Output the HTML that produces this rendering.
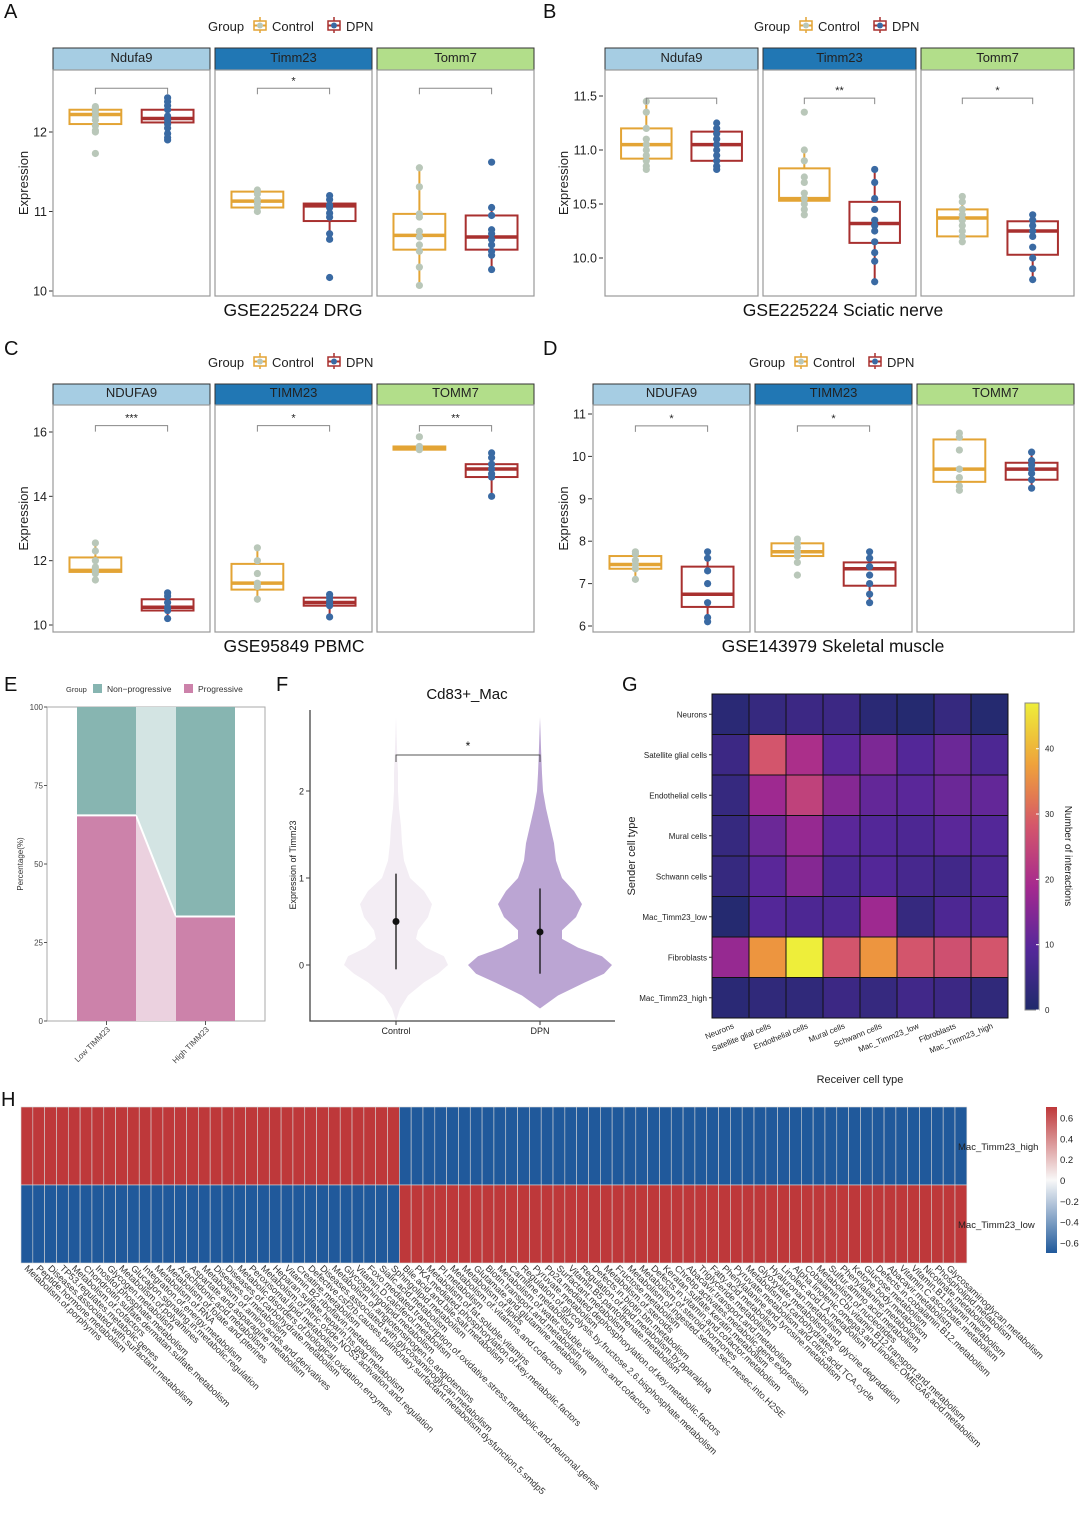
<!DOCTYPE html>
<html><head><meta charset="utf-8"><style>
html,body{margin:0;padding:0;background:#fff;}
svg{display:block;font-family:"Liberation Sans",Arial,sans-serif;}
</style></head><body>
<svg id="fig" xmlns="http://www.w3.org/2000/svg" width="1080" height="1516" viewBox="0 0 1080 1516">
<rect width="1080" height="1516" fill="#fff"/>
<g font-size="20" fill="#111">
<text x="4" y="18">A</text>
<text x="543" y="18">B</text>
<text x="4" y="355">C</text>
<text x="543" y="355">D</text>
<text x="4" y="691">E</text>
<text x="276" y="691">F</text>
<text x="622" y="691">G</text>
<text x="1" y="1106">H</text>
</g>
</svg>
<script>
// ---------- DATA: box panels ----------
const A_genes=['Ndufa9','Timm23','Tomm7'];
const A_ctrlStats=[[12.1,12.22,12.28],[11.05,11.13,11.25],[10.52,10.7,10.97]];
const A_dpnStats=[[12.12,12.17,12.28],[10.88,11.07,11.1],[10.52,10.68,10.95]];
const A_ctrlPts=[[12.32,12.3,12.25,12.2,12.15,12.08,12.02,12.0,11.73],[11.27,11.22,11.15,11.1,11.05,11.0],[11.55,11.31,10.97,10.93,10.75,10.68,10.58,10.5,10.3,10.07]];
const A_dpnPts=[[12.43,12.38,12.33,12.28,12.2,12.15,12.1,12.05,11.98,11.93,11.9],[11.2,11.15,11.08,11.05,10.98,10.93,10.72,10.65,10.17],[11.62,11.05,10.95,10.77,10.72,10.65,10.58,10.5,10.45,10.27]];
const A_sig=['','*',''];
const A_ticks=[10,11,12];

const B_genes=['Ndufa9','Timm23','Tomm7'];
const B_ctrlStats=[[10.92,11.05,11.2],[10.53,10.55,10.83],[10.2,10.37,10.45]];
const B_dpnStats=[[10.9,11.05,11.17],[10.14,10.32,10.52],[10.03,10.25,10.34]];
const B_ctrlPts=[[11.45,11.35,11.2,11.1,11.05,11.0,10.95,10.9,10.85,10.82],[11.35,11.0,10.9,10.75,10.7,10.6,10.55,10.5,10.45,10.4],[10.57,10.52,10.45,10.4,10.35,10.3,10.25,10.2,10.15]];
const B_dpnPts=[[11.25,11.2,11.15,11.1,11.05,11.0,10.95,10.9,10.85,10.82],[10.82,10.7,10.55,10.45,10.35,10.3,10.25,10.15,10.05,9.97,9.78],[10.4,10.35,10.3,10.25,10.2,10.1,10.0,9.9,9.8]];
const B_sig=['','**','*'];
const B_ticks=[10.0,10.5,11.0,11.5];

const C_genes=['NDUFA9','TIMM23','TOMM7'];
const C_ctrlStats=[[11.65,11.7,12.1],[11.1,11.3,11.9],[15.45,15.5,15.55]];
const C_dpnStats=[[10.45,10.55,10.8],[10.6,10.7,10.85],[14.6,14.85,15.0]];
const C_ctrlPts=[[12.55,12.3,12.0,11.8,11.7,11.6,11.4],[12.4,12.0,11.6,11.3,11.2,10.8],[15.85,15.55,15.5,15.45]];
const C_dpnPts=[[11.0,10.9,10.7,10.55,10.45,10.2],[10.95,10.85,10.75,10.65,10.6,10.25],[15.35,15.2,15.0,14.85,14.7,14.6,14.0]];
const C_sig=['***','*','**'];
const C_ticks=[10,12,14,16];

const D_genes=['NDUFA9','TIMM23','TOMM7'];
const D_ctrlStats=[[7.35,7.45,7.65],[7.65,7.75,7.95],[9.4,9.7,10.4]];
const D_dpnStats=[[6.45,6.75,7.4],[6.95,7.35,7.5],[9.45,9.7,9.85]];
const D_ctrlPts=[[7.75,7.7,7.55,7.45,7.35,7.1],[8.05,7.95,7.85,7.75,7.65,7.5,7.2],[10.55,10.45,10.15,9.7,9.5,9.3,9.2]];
const D_dpnPts=[[7.75,7.6,7.3,7.0,6.55,6.2,6.1],[7.75,7.6,7.4,7.2,7.0,6.75,6.55],[10.1,9.9,9.8,9.7,9.6,9.45,9.25]];
const D_sig=['*','*',null];
const D_ticks=[6,7,8,9,10,11];

// ---------- DATA: E ----------
const E_groups=['Low TIMM23','High TIMM23'];
const E_progressive=[65.5,33.3];
const E_ticks=[0,25,50,75,100];

// ---------- DATA: F ----------
const F_groups=['Control','DPN'];
const F_ys=[-0.65,-0.5,-0.35,-0.2,-0.1,0,0.1,0.2,0.3,0.4,0.55,0.7,0.85,1.0,1.2,1.4,1.6,1.8,2.0,2.2,2.5,2.85];
const F_ctrlDens=[0,4,12,28,42,52,48,30,20,22,32,36,28,14,8,6,5,3,2,2,1,0];
const F_dpnDens=[0,0,18,45,64,72,62,38,22,22,36,42,34,22,16,14,10,6,3,2,1,0];
const F_mean=[0.5,0.38];
const F_lo=[-0.05,-0.1];
const F_hi=[1.05,0.88];
const F_ticks=[0,1,2];

// ---------- DATA: G ----------
const G_cells=['Neurons','Satellite glial cells','Endothelial cells','Mural cells','Schwann cells','Mac_Timm23_low','Fibroblasts','Mac_Timm23_high'];
const G_neurons=[2,4,5,5,2,1,4,1];
const G_satellite=[5,28,20,10,14,9,12,8];
const G_endothelial=[4,18,24,15,11,10,12,11];
const G_mural=[4,12,17,10,9,8,10,9];
const G_schwann=[4,10,15,8,9,7,6,8];
const G_macLow=[1,9,8,8,18,4,8,8];
const G_fibro=[17,36,47,28,36,28,27,28];
const G_macHigh=[2,3,3,5,4,6,5,3];
const G_ticks=[0,10,20,30,40];

// ---------- DATA: H ----------
const H_pathways=['Metabolism.of.porphyrins','Peptide.hormone.metabolism','Diseases.associated.with.surfactant.metabolism','TP53.regulates.metabolic.genes','Metabolism.of.cofactors','Chondroitin.sulfate.dermatan.sulfate.metabolism','Inositol.phosphate.metabolism','Glycogen.metabolism','Metabolism.of.polyamines','Glucagon.signaling.in.metabolic.regulation','Integration.of.energy.metabolism','Metabolism.of.RNA','Metabolism.of.folate.and.pterines','Arachidonic.acid.metabolism','Aspartate.and.asparagine.metabolism','Metabolism.of.amino.acids.and.derivatives','Diseases.of.metabolism','Diseases.of.carbohydrate.metabolism','Metabolic.disorders.of.biological.oxidation.enzymes','Peroxisomal.lipid.metabolism','Metabolism.of.nitric.oxide.NOS3.activation.and.regulation','Heparan.sulfate.heparin.hs.gag.metabolism','Vitamin.B2.riboflavin.metabolism','Creatine.metabolism','Defective.csf2rb.causes.pulmonary.surfactant.metabolism.dysfunction.5.smdp5','Diseases.associated.with.glycosaminoglycan.metabolism','Metabolism.of.angiotensinogen.to.angiotensins','Glycosphingolipid.metabolism','Vitamin.D.calciferol.metabolism','Foxo.mediated.transcription.of.oxidative.stress.metabolic.and.neuronal.genes','Sialic.acid.metabolism','Sphingolipid.metabolism','Bile.acid.and.bile.salt.metabolism','PKA.mediated.phosphorylation.of.key.metabolic.factors','Metabolism.of.fat.soluble.vitamins','PI.metabolism','Metabolism.of.vitamins.and.cofactors','Metabolism.of.lipids','Glutamate.and.glutamine.metabolism','Biotin.transport.and.metabolism','Metabolism.of.water.soluble.vitamins.and.cofactors','Carnitine.metabolism','Regulation.of.glycolysis.by.fructose.2.6.bisphosphate.metabolism','Pyruvate.metabolism','Pp2a.mediated.dephosphorylation.of.key.metabolic.factors','Surfactant.metabolism','Vitamin.B5.pantothenate.metabolism','Regulation.of.lipid.metabolism.by.pparalpha','Defects.in.biotin.btn.metabolism','Metabolism.of.steroids','Fructose.metabolism','Metabolism.of.ingested.semet.sec.mesec.into.H2SE','Metabolism.of.steroid.hormones','Defects.in.vitamin.and.cofactor.metabolism','Keratan.sulfate.keratin.metabolism','Chrebp.activates.metabolic.gene.expression','Abacavir.transport.and.metabolism','Triglyceride.metabolism','Fatty.acid.metabolism','Phenylalanine.and.tyrosine.metabolism','Pyruvate.metabolism.and.citric.acid.TCA.cycle','Metabolism.of.carbohydrates','Glyoxylate.metabolism.and.glycine.degradation','Hyaluronan.metabolism','Linoleic.acid.LA.metabolism','Alpha.linolenic.omega3.and.linoleic.OMEGA6.acid.metabolism','Cobalamin.Cbl.vitamin.B12.transport.and.metabolism','Metabolism.of.nucleotides','Sulfur.amino.acid.metabolism','Phenylalanine.metabolism','Ketone.body.metabolism','Glucose.metabolism','Defects.in.cobalamin.B12.metabolism','Abacavir.metabolism','Vitamin.C.ascorbate.metabolism','Vitamin.B1.thiamin.metabolism','Nicotinate.metabolism','Phospholipid.metabolism','Glycosaminoglycan.metabolism'];
const H_rows=['Mac_Timm23_high','Mac_Timm23_low'];
const H_high=[0.7,0.7,0.7,0.7,0.7,0.7,0.7,0.7,0.7,0.7,0.7,0.7,0.7,0.7,0.7,0.7,0.7,0.7,0.7,0.7,0.7,0.7,0.7,0.7,0.7,0.7,0.7,0.7,0.7,0.7,0.7,0.7,-0.7,-0.7,-0.7,-0.7,-0.7,-0.7,-0.7,-0.7,-0.7,-0.7,-0.7,-0.7,-0.7,-0.7,-0.7,-0.7,-0.7,-0.7,-0.7,-0.7,-0.7,-0.7,-0.7,-0.7,-0.7,-0.7,-0.7,-0.7,-0.7,-0.7,-0.7,-0.7,-0.7,-0.7,-0.7,-0.7,-0.7,-0.7,-0.7,-0.7,-0.7,-0.7,-0.7,-0.7,-0.7,-0.7,-0.7,-0.7];
const H_low=[-0.7,-0.7,-0.7,-0.7,-0.7,-0.7,-0.7,-0.7,-0.7,-0.7,-0.7,-0.7,-0.7,-0.7,-0.7,-0.7,-0.7,-0.7,-0.7,-0.7,-0.7,-0.7,-0.7,-0.7,-0.7,-0.7,-0.7,-0.7,-0.7,-0.7,-0.7,-0.7,0.7,0.7,0.7,0.7,0.7,0.7,0.7,0.7,0.7,0.7,0.7,0.7,0.7,0.7,0.7,0.7,0.7,0.7,0.7,0.7,0.7,0.7,0.7,0.7,0.7,0.7,0.7,0.7,0.7,0.7,0.7,0.7,0.7,0.7,0.7,0.7,0.7,0.7,0.7,0.7,0.7,0.7,0.7,0.7,0.7,0.7,0.7,0.7];
const H_ticks=[0.6,0.4,0.2,0,-0.2,-0.4,-0.6];

// ---------- helpers ----------
const NS='http://www.w3.org/2000/svg';
const svg=document.getElementById('fig');
function mk(tag,attrs,parent,txt){const e=document.createElementNS(NS,tag);for(const k in attrs)e.setAttribute(k,attrs[k]);if(txt!==undefined)e.textContent=txt;(parent||svg).appendChild(e);return e;}
function lin(d0,d1,r0,r1){return v=>r0+(v-d0)*(r1-r0)/(d1-d0);}
const CTRL='#e3a435',DPN='#a8302f',CTRLPT='#b9c7b9',DPNPT='#3a6aa3';
const STRIPS=['#a6cde3','#2177b4','#b2de8a'];

function legend(x,y){
  const g=mk('g',{},svg);
  
  mk('text',{x:x,y:y,'font-size':13,fill:'#222'},g,'Group');
  const items=[['Control',CTRL,CTRLPT],['DPN',DPN,DPNPT]];
  let cx=x+46;
  items.forEach(it=>{
    const e=mk('g',{},g);
    
    
    mk('line',{x1:cx+6,y1:y-14,x2:cx+6,y2:y+2,stroke:it[1],'stroke-width':1.5},e);
    mk('rect',{x:cx,y:y-10,width:12,height:9,fill:'#fff',stroke:it[1],'stroke-width':1.5},e);
    mk('line',{x1:cx,y1:y-5.5,x2:cx+12,y2:y-5.5,stroke:it[1],'stroke-width':2},e);
    mk('circle',{cx:cx+6,cy:y-5.5,r:3,fill:it[2]},e);
    mk('text',{x:cx+18,y:y,'font-size':13,fill:'#222'},e,it[0]);
    cx+=it[0]==='Control'?74:0;
  });
}

function boxPanel(c){
  const ys=lin(c.v0,c.v1,c.p0,c.p1);
  legend(c.legX,c.legY);
  // y axis
  const ax=mk('g',{},svg);
  c.ticks.forEach(t=>{const y=ys(t);
    mk('line',{x1:c.axisX-4,y1:y,x2:c.axisX,y2:y,stroke:'#333'},ax);
    mk('text',{x:c.axisX-6,y:y+4.5,'font-size':12.5,'text-anchor':'end',fill:'#222'},ax,c.tickFmt?t.toFixed(1):String(t));});
  const yt=mk('text',{x:0,y:0,'font-size':13,'text-anchor':'middle',transform:`translate(${c.yTitleX},${(c.plotTop+c.plotBottom)/2}) rotate(-90)`,fill:'#222'},svg,'Expression');
  
  c.facets.forEach((f,i)=>{
    const g=mk('g',{},svg);
    const w=f[1]-f[0];
    mk('rect',{x:f[0],y:c.stripTop,width:w,height:c.plotTop-c.stripTop,fill:STRIPS[i],stroke:'#333','stroke-width':1},g);
    mk('text',{x:f[0]+w/2,y:c.plotTop-8,'font-size':13,'text-anchor':'middle',fill:'#222'},g,c.genes[i]);
    mk('rect',{x:f[0],y:c.plotTop,width:w,height:c.plotBottom-c.plotTop,fill:'none',stroke:'#999','stroke-width':1.2},g);
    const sets=[[c.cs[i],c.cp[i],CTRL,CTRLPT,0.27,'control'],[c.ds[i],c.dp[i],DPN,DPNPT,0.73,'dpn']];
    sets.forEach(s=>{
      const st=s[0],pts=s[1],cx=f[0]+w*s[4],hw=w*0.165;
      const iqr=st[2]-st[0];
      const inl=pts.filter(p=>p>=st[0]-1.5*iqr&&p<=st[2]+1.5*iqr);
      const wl=Math.min(...inl,st[0]),wh=Math.max(...inl,st[2]);
      const b=mk('g',{},g);
      mk('line',{x1:cx,y1:ys(wh),x2:cx,y2:ys(st[2]),stroke:s[2],'stroke-width':2},b);
      mk('line',{x1:cx,y1:ys(st[0]),x2:cx,y2:ys(wl),stroke:s[2],'stroke-width':2},b);
      mk('rect',{x:cx-hw,y:ys(st[2]),width:2*hw,height:Math.max(1,ys(st[0])-ys(st[2])),fill:'#fff',stroke:s[2],'stroke-width':2},b);
      mk('line',{x1:cx-hw,y1:ys(st[1]),x2:cx+hw,y2:ys(st[1]),stroke:s[2],'stroke-width':3.5},b);
      pts.forEach(p=>{const pt=mk('circle',{cx:cx,cy:ys(p),r:3.6,fill:s[3]},b);
        });
    });
    if(c.sig[i]!==null){
      const by=ys(c.bracket),x1=f[0]+w*0.27,x2=f[0]+w*0.73;
      const br=mk('path',{d:`M${x1},${by+6}V${by}H${x2}V${by+6}`,fill:'none',stroke:'#888','stroke-width':1},g);
      
      if(c.sig[i])mk('text',{x:(x1+x2)/2,y:by-4,'font-size':11,'text-anchor':'middle',fill:'#222'},g,c.sig[i]);
    }
  });
  const t=mk('text',{x:c.titleX,y:c.titleY,'font-size':17.5,'text-anchor':'middle',fill:'#111'},svg,c.title);
  
}

boxPanel({id:'panel-a',genes:A_genes,cs:A_ctrlStats,ds:A_dpnStats,cp:A_ctrlPts,dp:A_dpnPts,sig:A_sig,ticks:A_ticks,
  v0:10,v1:12,p0:291,p1:132,axisX:53,facets:[[53,210],[215,372],[377,534]],stripTop:48,plotTop:70,plotBottom:296,
  bracket:12.55,legX:208,legY:31,yTitleX:28,title:'GSE225224 DRG',titleX:293,titleY:316});
boxPanel({id:'panel-b',genes:B_genes,cs:B_ctrlStats,ds:B_dpnStats,cp:B_ctrlPts,dp:B_dpnPts,sig:B_sig,ticks:B_ticks,tickFmt:1,
  v0:10,v1:11.5,p0:258,p1:96,axisX:603,facets:[[605,758],[763,916],[921,1074]],stripTop:48,plotTop:70,plotBottom:296,
  bracket:11.48,legX:754,legY:31,yTitleX:568,title:'GSE225224 Sciatic nerve',titleX:843,titleY:316});
boxPanel({id:'panel-c',genes:C_genes,cs:C_ctrlStats,ds:C_dpnStats,cp:C_ctrlPts,dp:C_dpnPts,sig:C_sig,ticks:C_ticks,
  v0:10,v1:16,p0:625,p1:432,axisX:53,facets:[[53,210],[215,372],[377,534]],stripTop:384,plotTop:405,plotBottom:632,
  bracket:16.2,legX:208,legY:367,yTitleX:28,title:'GSE95849 PBMC',titleX:294,titleY:652});
boxPanel({id:'panel-d',genes:D_genes,cs:D_ctrlStats,ds:D_dpnStats,cp:D_ctrlPts,dp:D_dpnPts,sig:D_sig,ticks:D_ticks,
  v0:6,v1:11,p0:626,p1:414,axisX:592,facets:[[593,750],[755,912],[917,1074]],stripTop:384,plotTop:405,plotBottom:632,
  bracket:10.72,legX:749,legY:367,yTitleX:568,title:'GSE143979 Skeletal muscle',titleX:833,titleY:652});

// ---------- E ----------
(function(){
  const ys=lin(0,100,1021,707);
  const bars=[[77,136],[176,235]];
  const g=mk('g',{},svg);
  mk('rect',{x:47,y:707,width:218,height:314,fill:'#fff',stroke:'#aaa'},g);
  const pL=ys(E_progressive[0]),pH=ys(E_progressive[1]);
  const fl=mk('polygon',{points:`${bars[0][1]},${ys(100)} ${bars[1][0]},${ys(100)} ${bars[1][0]},${pH} ${bars[0][1]},${pL}`,fill:'#d3e4e3'},g);
  
  const fp=mk('polygon',{points:`${bars[0][1]},${pL} ${bars[1][0]},${pH} ${bars[1][0]},${ys(0)} ${bars[0][1]},${ys(0)}`,fill:'#ebd1df'},g);
  
  mk('line',{x1:bars[0][1],y1:pL,x2:bars[1][0],y2:pH,stroke:'#fff','stroke-width':2},g);
  E_progressive.forEach((p,i)=>{
    const b=bars[i];
    const r1=mk('rect',{x:b[0],y:ys(100),width:b[1]-b[0],height:ys(p)-ys(100),fill:'#87b5b1'},g);
    
    const r2=mk('rect',{x:b[0],y:ys(p),width:b[1]-b[0],height:ys(0)-ys(p),fill:'#cc82aa'},g);
    
    mk('line',{x1:b[0],y1:ys(p),x2:b[1],y2:ys(p),stroke:'#fff','stroke-width':2},g);
    const cx=(b[0]+b[1])/2;
    mk('line',{x1:cx,y1:1021,x2:cx,y2:1025,stroke:'#555'},g);
    mk('text',{x:0,y:0,'font-size':8,'text-anchor':'end',fill:'#444',transform:`translate(${cx+4},${1030}) rotate(-45)`},g,E_groups[i]);
  });
  E_ticks.forEach(t=>{mk('line',{x1:44,y1:ys(t),x2:47,y2:ys(t),stroke:'#555'},g);
    mk('text',{x:43,y:ys(t)+3,'font-size':8,'text-anchor':'end',fill:'#444'},g,String(t));});
  mk('text',{x:0,y:0,'font-size':8,'text-anchor':'middle',fill:'#333',transform:'translate(23,864) rotate(-90)'},g,'Percentage(%)');
  const lg=mk('g',{},svg);
  mk('text',{x:66,y:692,'font-size':7.5,fill:'#333'},lg,'Group');
  mk('rect',{x:93,y:684,width:9,height:9,fill:'#87b5b1'},lg);
  mk('text',{x:107,y:692,'font-size':8.5,fill:'#333'},lg,'Non−progressive');
  mk('rect',{x:184,y:684,width:9,height:9,fill:'#cc82aa'},lg);
  mk('text',{x:198,y:692,'font-size':8.5,fill:'#333'},lg,'Progressive');
})();

// ---------- F ----------
(function(){
  const ys=lin(0,1,965,878);
  const xs=[396,540];
  const g=mk('g',{},svg);
  const dens=[F_ctrlDens,F_dpnDens],cols=['#f3edf4','#bba5d3'];
  dens.forEach((d,i)=>{
    let pts=[];
    F_ys.forEach((y,k)=>pts.push([xs[i]+d[k],ys(y)]));
    for(let k=F_ys.length-1;k>=0;k--)pts.push([xs[i]-d[k],ys(F_ys[k])]);
    const v=mk('polygon',{points:pts.map(p=>p.join(',')).join(' '),fill:cols[i],'stroke-linejoin':'round'},g);
    
    mk('line',{x1:xs[i],y1:ys(F_lo[i]),x2:xs[i],y2:ys(F_hi[i]),stroke:'#111','stroke-width':1.3},g);
    const m=mk('circle',{cx:xs[i],cy:ys(F_mean[i]),r:3.5,fill:'#111'},g);
    
    mk('line',{x1:xs[i],y1:1021,x2:xs[i],y2:1025,stroke:'#333'},g);
    mk('text',{x:xs[i],y:1034,'font-size':9,'text-anchor':'middle',fill:'#222'},g,F_groups[i]);
  });
  mk('path',{d:'M310,710V1021H615',fill:'none',stroke:'#444','stroke-width':1.3},g);
  F_ticks.forEach(t=>{mk('line',{x1:306,y1:ys(t),x2:310,y2:ys(t),stroke:'#444'},g);
    mk('text',{x:304,y:ys(t)+3.5,'font-size':9,'text-anchor':'end',fill:'#222'},g,String(t));});
  mk('text',{x:0,y:0,'font-size':9,'text-anchor':'middle',fill:'#222',transform:'translate(296,865) rotate(-90)'},g,'Expression of Timm23');
  mk('text',{x:467,y:699,'font-size':15,'text-anchor':'middle',fill:'#111'},g,'Cd83+_Mac');
  const br=mk('path',{d:'M396,762V755H540V762',fill:'none',stroke:'#555','stroke-width':1},g);
  
  mk('text',{x:468,y:750,'font-size':12,'text-anchor':'middle',fill:'#111'},g,'*');
})();

// ---------- G ----------
function gCol(t){
  const st=[[0,[31,42,107]],[0.2,[85,39,154]],[0.4,[165,41,143]],[0.6,[212,86,107]],[0.78,[239,154,59]],[1,[238,238,58]]];
  t=Math.max(0,Math.min(1,t));
  for(let i=1;i<st.length;i++){if(t<=st[i][0]){const a=st[i-1],b=st[i],f=(t-a[0])/(b[0]-a[0]);
    return 'rgb('+a[1].map((v,k)=>Math.round(v+(b[1][k]-v)*f)).join(',')+')';}}
  return 'rgb(238,238,58)';
}
(function(){
  const G_matrix=[G_neurons,G_satellite,G_endothelial,G_mural,G_schwann,G_macLow,G_fibro,G_macHigh];
  const x0=712,y0=694,cw=37,ch=40.5,vmax=47;
  const g=mk('g',{},svg);
  G_matrix.forEach((row,r)=>row.forEach((v,c)=>{
    const cell=mk('rect',{x:x0+c*cw,y:y0+r*ch,width:cw,height:ch,fill:gCol(v/vmax),stroke:'#111','stroke-width':1},g);
    
  }));
  G_cells.forEach((n,i)=>{
    mk('text',{x:x0-5,y:y0+i*ch+ch/2+3,'font-size':8,'text-anchor':'end',fill:'#222'},g,n);
    mk('line',{x1:x0-3,y1:y0+i*ch+ch/2,x2:x0,y2:y0+i*ch+ch/2,stroke:'#333'},g);
    const cx=x0+i*cw+cw/2;
    mk('text',{x:0,y:0,'font-size':8,'text-anchor':'end',fill:'#222',transform:`translate(${cx+4},${1028}) rotate(-22)`},g,n);
  });
  mk('text',{x:860,y:1083,'font-size':11,'text-anchor':'middle',fill:'#222'},g,'Receiver cell type');
  mk('text',{x:0,y:0,'font-size':11,'text-anchor':'middle',fill:'#222',transform:'translate(635,856) rotate(-90)'},g,'Sender cell type');
  const defs=mk('defs',{},svg);
  const lg=mk('linearGradient',{id:'gcb',x1:0,y1:1,x2:0,y2:0},defs);
  for(let i=0;i<=10;i++)mk('stop',{offset:i/10,'stop-color':gCol(i/10)},lg);
  const cb=mk('rect',{x:1025,y:703,width:14,height:307,fill:'url(#gcb)',stroke:'#888'},g);
  
  const cy=lin(0,vmax,1010,703);
  G_ticks.forEach(t=>{mk('line',{x1:1036,y1:cy(t),x2:1039,y2:cy(t),stroke:'#fff'},g);
    mk('text',{x:1045,y:cy(t)+3,'font-size':8,fill:'#222'},g,String(t));});
  mk('text',{x:0,y:0,'font-size':10,'text-anchor':'middle',fill:'#222',transform:'translate(1065,856) rotate(90)'},g,'Number of interactions');
})();

// ---------- H ----------
function hCol(v){
  const t=Math.max(-1,Math.min(1,v/0.7));
  const w=[248,248,248],r=[190,56,58],b=[32,89,155];
  const e=t>=0?r:b,f=Math.abs(t);
  return 'rgb('+w.map((x,k)=>Math.round(x+(e[k]-x)*f)).join(',')+')';
}
(function(){
  const x0=21,x1=955,y0=1107,rh=78,n=H_pathways.length,cw=(x1-x0)/n;
  const g=mk('g',{},svg);
  [H_high,H_low].forEach((row,r)=>{
    row.forEach((v,c)=>{
      const cell=mk('rect',{x:x0+c*cw,y:y0+r*rh,width:cw,height:rh,fill:hCol(v),stroke:'#d8d8d8','stroke-width':0.6},g);
      
    });
    mk('text',{x:x1+3,y:y0+r*rh+rh/2+4,'font-size':9.5,fill:'#222'},g,H_rows[r]);
  });
  H_pathways.forEach((p,c)=>{
    const cx=x0+c*cw+cw/2;
    mk('text',{x:0,y:0,'font-size':9.3,fill:'#333',transform:`translate(${cx-3},${y0+2*rh+6}) rotate(44)`},g,p);
  });
  const defs=mk('defs',{},svg);
  const lg=mk('linearGradient',{id:'hcb',x1:0,y1:1,x2:0,y2:0},defs);
  for(let i=0;i<=10;i++){const v=-0.7+1.4*i/10;mk('stop',{offset:i/10,'stop-color':hCol(v)},lg);}
  const cb=mk('rect',{x:1046,y:1107,width:11,height:146,fill:'url(#hcb)'},g);
  
  const cy=lin(-0.7,0.7,1253,1107);
  H_ticks.forEach(t=>mk('text',{x:1060,y:cy(t)+4,'font-size':9.5,fill:'#222'},g,t===0?'0':(t<0?'−'+Math.abs(t):String(t))));
})();
</script>
</body></html>
